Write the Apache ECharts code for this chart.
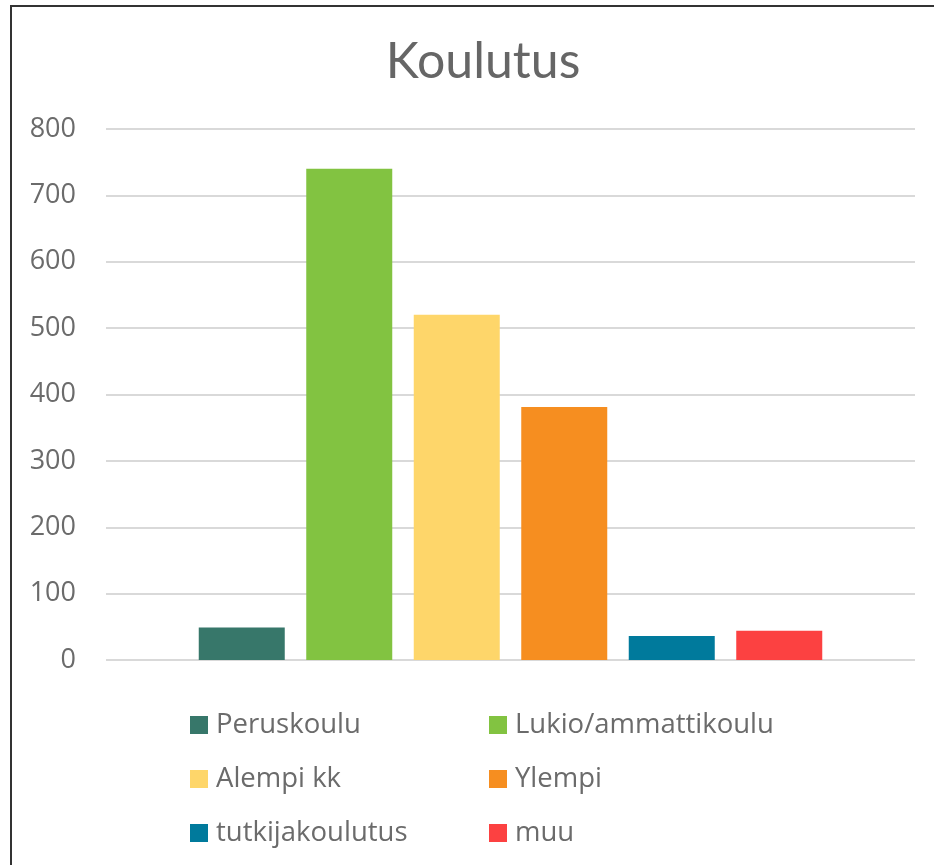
<!DOCTYPE html>
<html>
<head>
<meta charset="utf-8">
<title>Koulutus</title>
<script src="https://cdn.jsdelivr.net/npm/echarts@6/dist/echarts.min.js"></script>
<style>
  html, body { margin: 0; padding: 0; background: #fff; }
  #chart { width: 934px; height: 865px; }
</style>
</head>
<body>
<div id="chart"></div>
<script>
// Education level counts (one series per level, single category)
const levels = ['Peruskoulu', 'Lukio/ammattikoulu', 'Alempi kk', 'Ylempi', 'tutkijakoulutus', 'muu'];
const counts = [49, 740, 520, 381, 36, 44];
const colors = ['#37776a', '#82c341', '#fed66a', '#f68e20', '#007a9c', '#fc4141'];
const yTicks = { min: 0, max: 800, step: 100 };

const textColor = '#6b6b6b';
const font = '"Open Sans", "Noto Sans", sans-serif';

// Legend: two columns, three rows; one legend block per entry
const legendCols = [190, 489];
const legendRows = [711, 765, 819];
const legends = levels.map((name, i) => ({
  left: legendCols[i % 2],
  top: legendRows[Math.floor(i / 2)],
  data: [name],
  itemWidth: 18,
  itemHeight: 18,
  icon: 'rect',
  selectedMode: false,
  padding: 0,
  textStyle: {
    fontFamily: font,
    fontSize: 27.5,
    color: textColor,
    lineHeight: 18,
    padding: [0, 0, 0, 3]
  }
}));

const chart = echarts.init(document.getElementById('chart'), null, { renderer: 'canvas' });
chart.setOption({
  animation: false,
  backgroundColor: '#fff',
  title: {
    text: 'Koulutus',
    left: 478,
    textAlign: 'center',
    top: 32,
    textStyle: {
      fontFamily: '"Lato", "Noto Sans", sans-serif',
      fontWeight: 'normal',
      fontSize: 50,
      color: '#666'
    }
  },
  graphic: [{
    type: 'rect',
    silent: true,
    shape: { x: 11, y: 6, width: 1000, height: 1000 },
    style: { fill: 'none', stroke: '#333', lineWidth: 2 }
  }],
  legend: legends,
  grid: { left: 106, right: 19, top: 129, bottom: 205 },
  xAxis: {
    type: 'category',
    data: [''],
    axisLine: { show: false },
    axisTick: { show: false },
    axisLabel: { show: false }
  },
  yAxis: {
    type: 'value',
    min: yTicks.min,
    max: yTicks.max,
    interval: yTicks.step,
    axisLine: { show: false },
    axisTick: { show: false },
    axisLabel: {
      fontFamily: font,
      fontSize: 27,
      color: textColor,
      margin: 30
    },
    splitLine: { lineStyle: { color: '#d9d9d9', width: 2 } }
  },
  series: levels.map((name, i) => ({
    name: name,
    type: 'bar',
    data: [counts[i]],
    barWidth: 86,
    barGap: '25%',
    itemStyle: { color: colors[i] }
  }))
});
</script>
</body>
</html>
